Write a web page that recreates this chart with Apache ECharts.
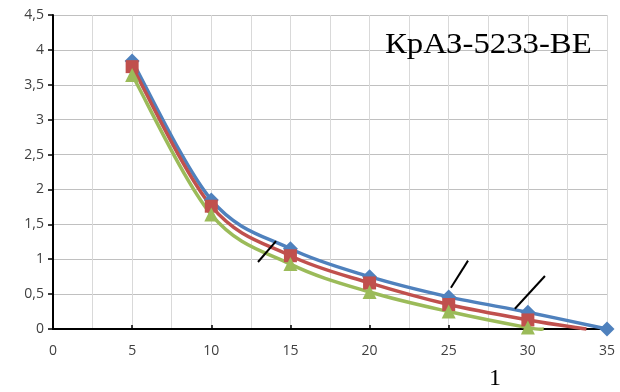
<!DOCTYPE html>
<html>
<head>
<meta charset="utf-8">
<script src="https://cdn.jsdelivr.net/npm/echarts@6/dist/echarts.min.js"></script>
<style>
  html, body { margin: 0; padding: 0; background: #fff; }
  #chart { width: 620px; height: 392px; }
</style>
</head>
<body>
<div id="chart"></div>
<script>
// Values read along the length axis (0..35)
const xValues = [5, 10, 15, 20, 25, 30];
const seriesBlue = [3.84, 1.85, 1.15, 0.75, 0.46, 0.24];
const seriesRed = [3.76, 1.76, 1.05, 0.66, 0.35, 0.13];
const seriesGreen = [3.64, 1.64, 0.93, 0.53, 0.25, 0.02];
// Points where each curve reaches zero
const blueEnd = [35, 0];
const redEnd = [33.7, 0];
const greenEnd = [31, 0];

// Short leader strokes (start and end, in axis units)
const leaders = [
  [[12.95, 0.96], [14.09, 1.26]],
  [[25.14, 0.59], [26.22, 0.98]],
  [[29.18, 0.29], [31.08, 0.76]]
];

const titleText = 'КрАЗ-5233-ВЕ';
const axisCaption = '1';

function pairs(xs, ys) {
  return xs.map((x, i) => [x, ys[i]]);
}

const chart = echarts.init(document.getElementById('chart'));

// Smoothed curve through the points: cubic Bezier segments whose
// control points follow the neighbouring points (tension 1/6), in pixel space.
function smoothCurve(points, color) {
  return {
    type: 'custom',
    data: [points[0]],
    silent: true,
    clip: false,
    renderItem: function (params, api) {
      const p = points.map(pt => api.coord(pt));
      let d = 'M' + p[0][0] + ' ' + p[0][1];
      for (let i = 0; i < p.length - 1; i++) {
        const p0 = p[Math.max(i - 1, 0)];
        const p1 = p[i];
        const p2 = p[i + 1];
        const p3 = p[Math.min(i + 2, p.length - 1)];
        const c1 = [p1[0] + (p2[0] - p0[0]) / 6, p1[1] + (p2[1] - p0[1]) / 6];
        const c2 = [p2[0] - (p3[0] - p1[0]) / 6, p2[1] - (p3[1] - p1[1]) / 6];
        d += ' C' + c1[0] + ' ' + c1[1] + ' ' + c2[0] + ' ' + c2[1] + ' ' + p2[0] + ' ' + p2[1];
      }
      return {
        type: 'path',
        shape: { pathData: d },
        style: { stroke: color, lineWidth: 3.5, fill: null, lineJoin: 'round' }
      };
    },
    z: 3
  };
}

function markers(points, color, symbol, size) {
  return {
    type: 'scatter',
    data: points,
    symbol: symbol,
    symbolSize: size,
    itemStyle: { color: color, opacity: 1 },
    emphasis: { disabled: true },
    z: 3
  };
}

const bluePts = pairs(xValues, seriesBlue);
const redPts = pairs(xValues, seriesRed);
const greenPts = pairs(xValues, seriesGreen);

const leaderSeries = leaders.map(seg => ({
  type: 'line',
  data: seg,
  symbol: 'none',
  lineStyle: { color: '#000', width: 2 },
  silent: true,
  z: 5
}));

chart.setOption({
  animation: false,
  backgroundColor: '#fff',
  grid: { left: 53, right: 13, top: 15, bottom: 63, containLabel: false },
  xAxis: {
    type: 'value',
    min: 0,
    max: 35,
    interval: 5,
    axisLine: { show: true, onZero: false, lineStyle: { color: '#000', width: 2 } },
    axisTick: { show: true, inside: true, length: 4, lineStyle: { color: '#000', width: 1.5 } },
    axisLabel: {
      color: '#404040',
      fontFamily: 'Open Sans, sans-serif',
      fontSize: 14,
      margin: 15
    },
    splitLine: { show: true, lineStyle: { color: '#d9d9d9', width: 1 } },
    minorTick: { show: false, splitNumber: 2 },
    minorSplitLine: { show: true, lineStyle: { color: '#d9d9d9', width: 1 } }
  },
  yAxis: {
    type: 'value',
    min: 0,
    max: 4.5,
    interval: 0.5,
    axisLine: { show: true, lineStyle: { color: '#000', width: 2 } },
    axisTick: { show: true, length: 5, lineStyle: { color: '#000', width: 1.5 } },
    axisLabel: {
      color: '#404040',
      fontFamily: 'Open Sans, sans-serif',
      fontSize: 14,
      margin: 9,
      formatter: v => String(v).replace('.', ',')
    },
    splitLine: { show: true, lineStyle: { color: '#c0c0c0', width: 1 } }
  },
  series: [
    smoothCurve(bluePts.concat([blueEnd]), '#4f81bd'),
    markers(bluePts.concat([blueEnd]), '#4f81bd', 'diamond', 15),
    smoothCurve(redPts.concat([redEnd]), '#c0504d'),
    markers(redPts, '#c0504d', 'rect', 13),
    smoothCurve(greenPts.concat([greenEnd]), '#9bbb59'),
    markers(greenPts, '#9bbb59', 'triangle', 14)
  ].concat(leaderSeries),
  graphic: [
    {
      type: 'text',
      x: 385,
      y: 31,
      scaleX: 1.13,
      style: {
        text: titleText,
        font: '29px "Liberation Serif", serif',
        fill: '#000'
      },
      z: 10
    },
    {
      type: 'text',
      left: 489,
      top: 367,
      style: {
        text: axisCaption,
        font: '24px "Liberation Serif", serif',
        fill: '#000'
      },
      z: 10
    }
  ]
});
</script>
</body>
</html>
